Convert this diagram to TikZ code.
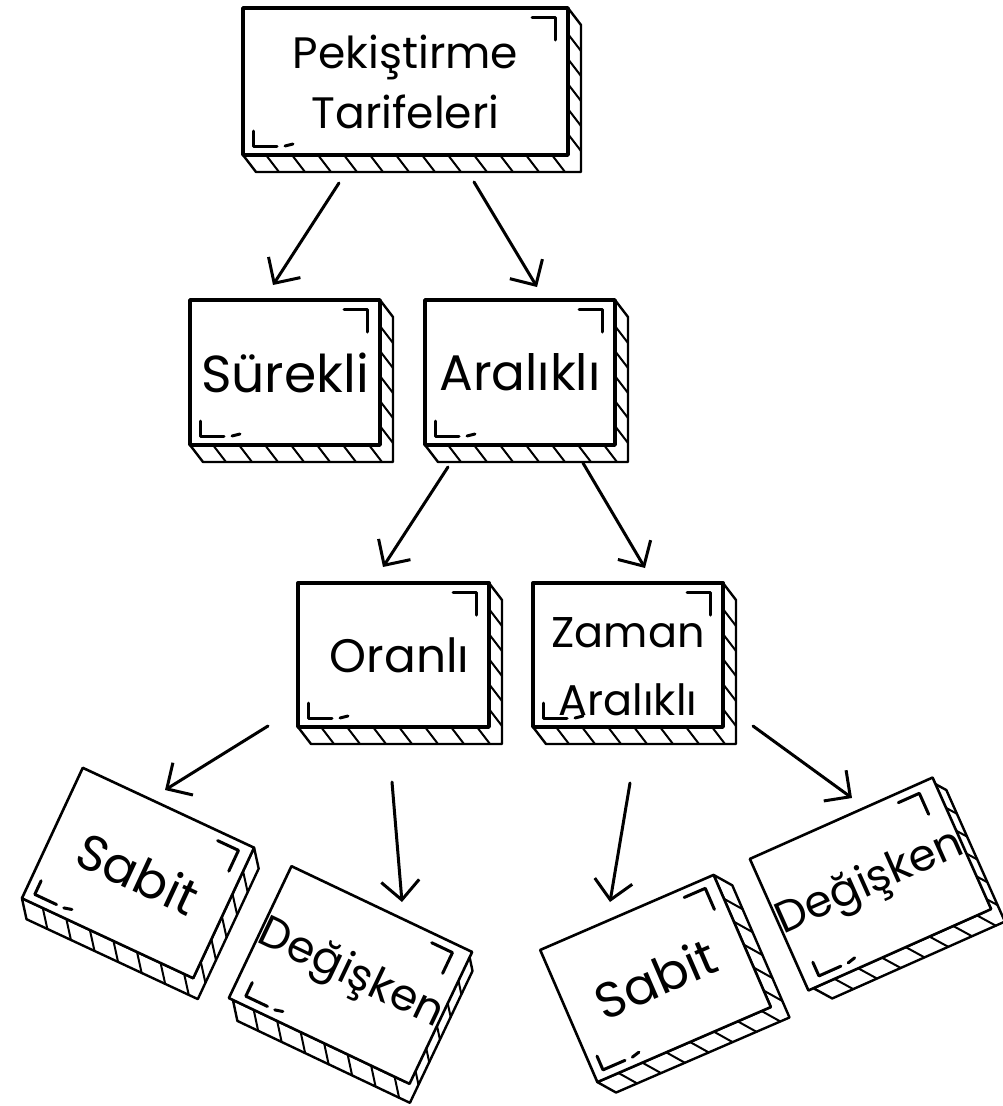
\documentclass[tikz,border=0pt]{standalone}
\usepackage{fontspec}
\setmainfont{Poppins}
\usetikzlibrary{arrows.meta}
\tikzset{
  skface/.style={draw, fill=white, inner sep=0pt, align=center, line join=round},
  skside/.style={draw, line width=2.4pt, line join=round, fill=white},
  skhatch/.style={line width=2pt, line cap=round},
  skmark/.style={line width=3pt, line cap=round, line join=round},
  skarrow/.style={line width=3pt, line cap=round, -{Straight Barb[length=19pt,width=38pt]}},
}
% #1 name, #2 cx, #3 cy, #4 angle, #5 w, #6 h, #7 font, #8 text, #9 face line width
\newcommand{\skbox}[9]{%
  \begin{scope}[shift={(#2,#3)}, rotate=#4]
    \draw[skside] ({#5/2},{-#6/2}) -- ({#5/2+13},{-#6/2+17}) -- ({#5/2+13},{#6/2+17})
      -- ({-#5/2+13},{#6/2+17}) -- ({-#5/2},{#6/2}) -- ({#5/2},{#6/2}) -- cycle;
    \pgfmathsetmacro\skex{#5-10}
    \foreach \hx in {23,49,...,\skex}
      \draw[skhatch] ({-#5/2+\hx},{#6/2}) -- ({-#5/2+\hx+13},{#6/2+17});
    \pgfmathsetmacro\skey{#6-8}
    \foreach \hy in {26,51,...,\skey}
      \draw[skhatch] ({#5/2},{-#6/2+\hy}) -- ({#5/2+13},{-#6/2+\hy+17});
  \end{scope}
  \node[skface, line width=#9, minimum width=#5, minimum height=#6, rotate=#4, font={#7}] (#1) at (#2,#3) {#8};
  \begin{scope}[shift={(#2,#3)}, rotate=#4]
    \draw[skmark] ({#5/2-36},{-#6/2+9}) -- ({#5/2-13},{-#6/2+9}) -- ({#5/2-13},{-#6/2+32});
    \draw[skmark] ({-#5/2+10},{#6/2-24}) -- ({-#5/2+10},{#6/2-9}) -- ({-#5/2+34},{#6/2-9});
    \draw[skmark] ({-#5/2+42},{#6/2-9}) -- ({-#5/2+50},{#6/2-11});
  \end{scope}
}
\begin{document}
\begin{tikzpicture}[x=1pt, y=-1pt]
  \fill[white] (0,0) rectangle (1003,1106);
  \useasboundingbox (0,0) rectangle (1003,1106);

  \skbox{top}{405.5}{81.5}{0}{325}{147}{\fontsize{44}{60}\selectfont}{Pekiştirme\\Tarifeleri}{3.4pt}
  \skbox{surekli}{285}{372.5}{0}{190}{145}{\fontsize{52}{60}\selectfont}{Sürekli}{3.4pt}
  \skbox{aralikli}{520}{372.5}{0}{190}{145}{\fontsize{50}{60}\selectfont}{Aralıklı}{3.4pt}
  \skbox{oranli}{393.5}{655}{0}{191}{144}{\fontsize{47}{60}\selectfont}{\hspace*{12pt}Oranlı}{3.4pt}
  \skbox{zaman}{628}{655}{0}{190}{144}{\fontsize{43}{68}\selectfont}{\rule{0pt}{54pt}Zaman\\Aralıklı}{3.4pt}
  \skbox{sabitA}{138}{873}{-25}{189}{144}{\fontsize{50}{60}\selectfont}{Sabit}{2.6pt}
  \skbox{degiskenA}{350.5}{975}{-25.4}{191}{146}{\fontsize{44}{60}\selectfont}{Değişken}{2.6pt}
  \skbox{sabitB}{655.5}{978.5}{23.4}{189}{144}{\fontsize{50}{60}\selectfont}{Sabit}{2.6pt}
  \skbox{degiskenB}{870.5}{884}{24}{189}{144}{\fontsize{44}{60}\selectfont}{Değişken}{2.6pt}

  \coordinate (a1s) at (339,183);  \coordinate (a1e) at (273,285);
  \coordinate (a2s) at (474,182);  \coordinate (a2e) at (537,287);
  \coordinate (a3s) at (448,467);  \coordinate (a3e) at (383,567);
  \coordinate (a4s) at (583,463);  \coordinate (a4e) at (645,568);
  \coordinate (a5s) at (268,726);  \coordinate (a5e) at (165,790);
  \coordinate (a6s) at (392,782);  \coordinate (a6e) at (402,902);
  \coordinate (a7s) at (630,783);  \coordinate (a7e) at (610,902);
  \coordinate (a8s) at (753,726);  \coordinate (a8e) at (852,798);

  \draw[skarrow] (a1s) -- (a1e);
  \draw[skarrow] (a2s) -- (a2e);
  \draw[skarrow] (a3s) -- (a3e);
  \draw[skarrow] (a4s) -- (a4e);
  \draw[skarrow] (a5s) -- (a5e);
  \draw[skarrow] (a6s) -- (a6e);
  \draw[skarrow] (a7s) -- (a7e);
  \draw[skarrow] (a8s) -- (a8e);
\end{tikzpicture}
\end{document}
